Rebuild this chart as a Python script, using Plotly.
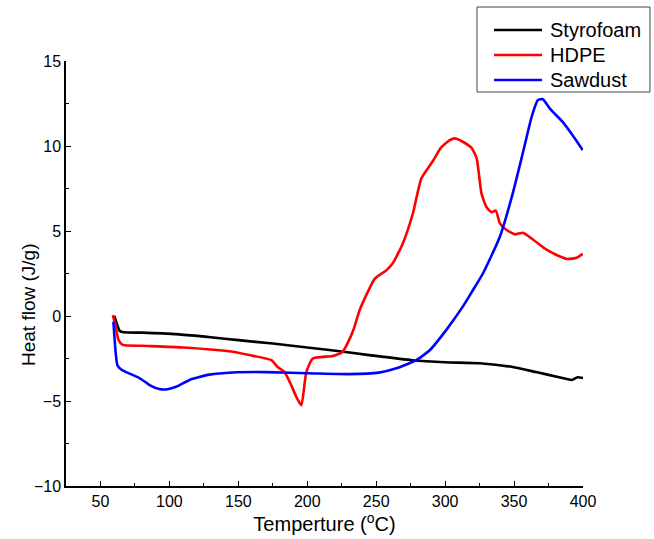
import plotly.graph_objects as go

# Styrofoam
styro_x = [60, 62, 64, 67, 80, 107, 130, 150, 175, 200, 216, 245, 276, 300, 325, 349, 366, 381, 392, 396, 400]
styro_y = [0, -0.5, -0.88, -0.96, -0.98, -1.08, -1.25, -1.42, -1.62, -1.85, -2.0, -2.3, -2.6, -2.72, -2.78, -3.0, -3.3, -3.57, -3.76, -3.6, -3.65]

# HDPE
hdpe_x = [59, 61, 63, 66, 80, 110, 146, 158, 174, 178.5, 183.5, 188, 192, 195.7, 199.3, 204, 218.5, 225.7,
          231, 234, 238, 245, 249, 257.5, 262, 269, 276.5, 282.8, 291, 297, 303.4, 307, 312.8, 319, 322.8,
          326.4, 330, 333.7, 336.8, 339.7, 344.6, 350.6, 356.4, 363.7, 373.6, 383.3, 389, 395.4, 399.8]
hdpe_y = [0.05, -0.6, -1.4, -1.7, -1.75, -1.85, -2.1, -2.3, -2.6, -3.0, -3.3, -4.0, -4.75, -5.25, -3.3, -2.5,
          -2.35, -2.1, -1.3, -0.7, 0.35, 1.6, 2.2, 2.7, 3.1, 4.2, 6.0, 8.1, 9.1, 9.9, 10.35, 10.45, 10.25, 9.9,
          9.3, 7.2, 6.4, 6.1, 6.2, 5.45, 5.06, 4.8, 4.9, 4.5, 3.9, 3.5, 3.35, 3.43, 3.65]

# Sawdust
saw_x = [59.4, 62.3, 65, 68.6, 78.3, 85.6, 92.8, 97.6, 104.9, 114.6, 129, 146, 170, 206, 230, 252, 264.7,
         279, 289, 301, 312.8, 320, 327.4, 339.7, 349, 356.4, 362.7, 367.3, 370.9, 376, 385.4, 392.7, 399.8]
saw_y = [-0.34, -2.9, -3.15, -3.3, -3.65, -4.06, -4.3, -4.32, -4.16, -3.76, -3.45, -3.32, -3.3, -3.38, -3.42,
         -3.33, -3.08, -2.6, -2.0, -0.8, 0.55, 1.5, 2.5, 4.66, 7.2, 9.6, 11.7, 12.7, 12.75, 12.2, 11.4, 10.6, 9.76]

series_names = ["Styrofoam", "HDPE", "Sawdust"]
series_colors = ["black", "#ff0000", "#0000ff"]

x_ticks = [50, 100, 150, 200, 250, 300, 350, 400]
y_ticks = [-10, -5, 0, 5, 10, 15]

FONT = "Liberation Sans, Arial, sans-serif"
LINE = dict(width=2.6, shape="spline", smoothing=0.5)

fig = go.Figure()
for nm, col, xs, ys in zip(series_names, series_colors,
                           [styro_x, hdpe_x, saw_x], [styro_y, hdpe_y, saw_y]):
    fig.add_trace(go.Scatter(x=xs, y=ys, mode="lines", name=nm,
                             line=dict(color=col, **LINE), showlegend=False))

# custom legend (box, line samples, labels) in paper coordinates
shapes = [dict(type="rect", xref="paper", yref="paper", x0=0.795, x1=1.1296, y0=0.927, y1=1.127,
               line=dict(color="#444", width=1), fillcolor="white", layer="above")]
annotations = []
row_y = [1.0729, 1.0141, 0.9553]
for nm, col, ry in zip(series_names, series_colors, row_y):
    shapes.append(dict(type="line", xref="paper", yref="paper", x0=0.8279, x1=0.9207, y0=ry, y1=ry,
                       line=dict(color=col, width=2.6), layer="above"))
    annotations.append(dict(text=nm, xref="paper", yref="paper", x=0.9323, y=ry,
                            xanchor="left", yanchor="middle", showarrow=False,
                            font=dict(size=20, family=FONT, color="black")))

annotations.append(dict(text="Heat flow (J/g)", xref="paper", yref="paper",
                        x=-0.0715, y=0.426, xanchor="center", yanchor="middle",
                        textangle=-90, showarrow=False, font=dict(size=19, family=FONT)))

fig.update_layout(
    width=654, height=539,
    margin=dict(l=66, r=71, t=61, b=53, autoexpand=False),
    paper_bgcolor="white", plot_bgcolor="white",
    font=dict(family=FONT, color="black", size=16),
    showlegend=False,
    xaxis=dict(range=[25, 400], tickvals=x_ticks, ticks="inside", ticklen=5,
               tickcolor="black", showline=True, linecolor="black", linewidth=1.5,
               showgrid=False, zeroline=False, automargin=False,
               minor=dict(dtick=25, tick0=25, ticks="inside", ticklen=3, tickcolor="black"),
               tickfont=dict(size=16),
               title=dict(text="Temperture (<sup>o</sup>C)", font=dict(size=20), standoff=4)),
    yaxis=dict(range=[-10, 15], tickvals=y_ticks, ticks="inside", ticklen=5,
               tickcolor="black", showline=True, linecolor="black", linewidth=1.5,
               showgrid=False, zeroline=False, automargin=False,
               minor=dict(dtick=2.5, tick0=0, ticks="inside", ticklen=3, tickcolor="black"),
               tickfont=dict(size=16)),
    shapes=shapes,
    annotations=annotations,
)

fig.write_html("out.html")
